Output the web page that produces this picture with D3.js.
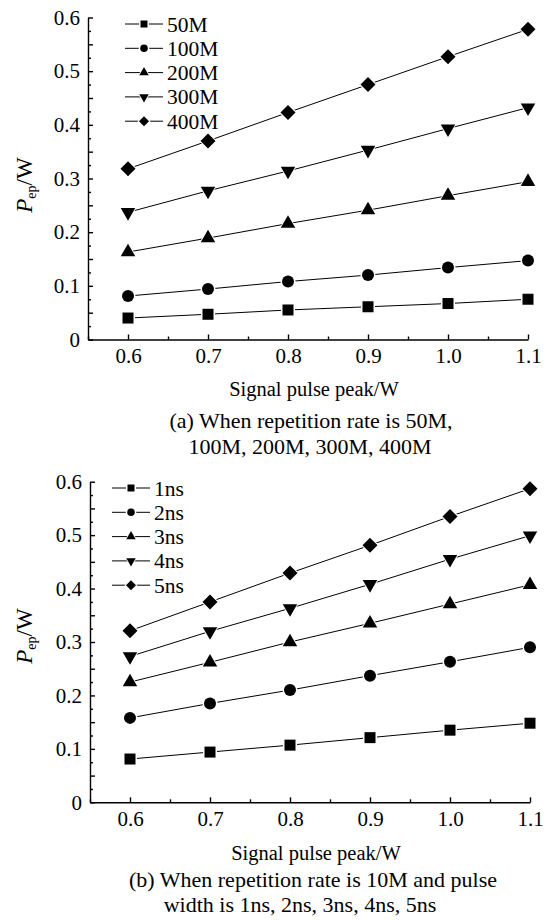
<!DOCTYPE html>
<html>
<head>
<meta charset="utf-8">
<script src="https://cdn.jsdelivr.net/npm/d3@7"></script>
<style>
  body { margin: 0; background: #fff; }
  svg text { font-family: "Liberation Serif", Tinos, "Times New Roman", "DejaVu Serif", serif; fill: #000; }
  .axis path, .axis line { stroke: #000; stroke-width: 1.4; }
  .axis text { font-size: 21px; }
  .series { fill: none; stroke: #000; stroke-width: 1; }
</style>
</head>
<body>
<svg width="545" height="921"></svg>
<script>
// x values (signal pulse peak, W)
var signalPeak = [0.6, 0.7, 0.8, 0.9, 1.0, 1.1];

// (a) repetition rate
var rateNames = ["50M", "100M", "200M", "300M", "400M"];
var pep50M  = [0.040, 0.047, 0.055, 0.061, 0.067, 0.075];
var pep100M = [0.081, 0.094, 0.108, 0.120, 0.134, 0.147];
var pep200M = [0.163, 0.189, 0.216, 0.241, 0.268, 0.294];
var pep300M = [0.237, 0.277, 0.314, 0.353, 0.393, 0.432];
var pep400M = [0.318, 0.370, 0.423, 0.475, 0.527, 0.578];

// (b) pulse width
var widthNames = ["1ns", "2ns", "3ns", "4ns", "5ns"];
var pep1ns = [0.081, 0.094, 0.107, 0.121, 0.135, 0.148];
var pep2ns = [0.158, 0.185, 0.210, 0.237, 0.263, 0.290];
var pep3ns = [0.225, 0.262, 0.300, 0.335, 0.371, 0.407];
var pep4ns = [0.273, 0.320, 0.363, 0.408, 0.455, 0.499];
var pep5ns = [0.321, 0.375, 0.429, 0.481, 0.535, 0.587];

// ticks
var xMajor = [0.6, 0.7, 0.8, 0.9, 1.0, 1.1];
var xMinor = [0.55, 0.65, 0.75, 0.85, 0.95, 1.05];
var yMajor = [0, 0.1, 0.2, 0.3, 0.4, 0.5, 0.6];
var yMid = [0.05, 0.15, 0.25, 0.35, 0.45, 0.55];
var yMinor = [0.025, 0.075, 0.125, 0.175, 0.225, 0.275, 0.325, 0.375, 0.425, 0.475, 0.525, 0.575];

var captionsA = ["(a) When repetition rate is 50M,", "100M, 200M, 300M, 400M"];
var captionsB = ["(b) When repetition rate is 10M and pulse", "width is 1ns, 2ns, 3ns, 4ns, 5ns"];

// marker shapes, one per series
var markerTypes = ["square", "circle", "up", "down", "diamond"];

var svg = d3.select("svg");

function markerPath(type, s) {
  // s ~ overall width of the marker in px
  switch (type) {
    case "square": return d3.symbol(d3.symbolSquare, s * s)();
    case "circle": return d3.symbol(d3.symbolCircle, Math.PI * s * s / 4)();
    case "up": return d3.symbol(d3.symbolTriangle, Math.sqrt(3) / 4 * s * s)();
    case "down": return d3.symbol(d3.symbolTriangle, Math.sqrt(3) / 4 * s * s)();
    case "diamond": return d3.symbol(d3.symbolSquare, s * s / 2)();
  }
}
function markerRot(type) {
  if (type === "down") return " rotate(180)";
  if (type === "diamond") return " rotate(45)";
  return "";
}
var markerSize = {square: 11, circle: 12, up: 14.5, down: 14.5, diamond: 15};
var legendSize = {square: 7, circle: 7.5, up: 9.5, down: 9.5, diamond: 10};

function drawMarker(g, type, x, y, s) {
  g.append("path")
    .attr("d", markerPath(type, s + 3))
    .attr("transform", "translate(" + [x, y] + ")" + markerRot(type))
    .style("fill", "#fff");
  g.append("path")
    .attr("d", markerPath(type, s))
    .attr("transform", "translate(" + [x, y] + ")" + markerRot(type))
    .style("fill", "#000");
}

function drawPanel(cfg) {
  var x = d3.scaleLinear().domain([0.55, 1.1]).range(cfg.xRange);
  var y = d3.scaleLinear().domain([0, 0.6]).range(cfg.yRange);
  var g = svg.append("g");

  // axes
  var yFmt = function (d) { return d === 0 ? "0" : d3.format(".1f")(d); };
  g.append("g").attr("class", "axis")
    .attr("transform", "translate(" + x(0.55) + ",0)")
    .call(d3.axisLeft(y).tickValues(yMajor).tickFormat(yFmt).tickSizeInner(-5).tickSizeOuter(0).tickPadding(8));
  g.append("g").attr("class", "axis")
    .attr("transform", "translate(" + x(0.55) + ",0)")
    .call(d3.axisLeft(y).tickValues(yMid).tickFormat("").tickSizeInner(-5).tickSizeOuter(0))
    .select(".domain").remove();
  g.append("g").attr("class", "axis")
    .attr("transform", "translate(" + x(0.55) + ",0)")
    .call(d3.axisLeft(y).tickValues(yMinor).tickFormat("").tickSizeInner(-3).tickSizeOuter(0))
    .select(".domain").remove();
  g.append("g").attr("class", "axis")
    .attr("transform", "translate(0," + y(0) + ")")
    .call(d3.axisBottom(x).tickValues(xMajor).tickFormat(d3.format(".1f")).tickSizeInner(-5).tickSizeOuter(0).tickPadding(9));
  g.append("g").attr("class", "axis")
    .attr("transform", "translate(0," + y(0) + ")")
    .call(d3.axisBottom(x).tickValues(xMinor).tickFormat("").tickSizeInner(-3).tickSizeOuter(0))
    .select(".domain").remove();
  g.selectAll(".axis").attr("font-family", null);

  // series
  var line = d3.line().x(function (d, i) { return x(signalPeak[i]); }).y(function (d) { return y(d); });
  cfg.series.forEach(function (vals, k) {
    g.append("path").attr("class", "series").attr("d", line(vals));
  });
  cfg.series.forEach(function (vals, k) {
    vals.forEach(function (v, i) {
      drawMarker(g, markerTypes[k], x(signalPeak[i]), y(v), markerSize[markerTypes[k]]);
    });
  });

  // legend
  var lg = cfg.legend;
  cfg.names.forEach(function (name, k) {
    var ly = lg.y + k * 24.3;
    g.append("line")
      .attr("x1", lg.x1).attr("x2", lg.x2).attr("y1", ly).attr("y2", ly)
      .style("stroke", "#000").style("stroke-width", 1);
    drawMarker(g, markerTypes[k], (lg.x1 + lg.x2) / 2, ly, legendSize[markerTypes[k]]);
    g.append("text")
      .attr("x", lg.x2 + 4).attr("y", ly).attr("dy", "0.35em")
      .style("font-size", "21.5px")
      .text(name);
  });

  // y label
  var yl = g.append("text")
    .attr("transform", "translate(" + [32, cfg.yLabelY] + ") rotate(-90)")
    .attr("text-anchor", "middle")
    .style("font-size", "23px");
  yl.append("tspan").style("font-style", "italic").text("P");
  yl.append("tspan").attr("dy", 4).style("font-size", "14px").text("ep");
  yl.append("tspan").attr("dy", -4).text("/W");

  // x label and caption
  g.append("text")
    .attr("x", cfg.xLabelX).attr("y", cfg.xLabelY).attr("dy", "0.35em")
    .attr("text-anchor", "middle").style("font-size", "20.5px")
    .text("Signal pulse peak/W");
  cfg.captions.forEach(function (c, i) {
    g.append("text")
      .attr("x", cfg.captionX[i]).attr("y", cfg.captionY[i]).attr("dy", "0.35em")
      .attr("text-anchor", "middle").style("font-size", "22px")
      .text(c);
  });
}

drawPanel({
  xRange: [88, 528], yRange: [339.5, 17.5],
  series: [pep50M, pep100M, pep200M, pep300M, pep400M],
  names: rateNames,
  legend: {x1: 125, x2: 163, y: 24},
  yLabelY: 185, xLabelX: 314, xLabelY: 389,
  captions: captionsA, captionX: [311, 310], captionY: [420, 446]
});

drawPanel({
  xRange: [90, 530], yRange: [802.3, 481.7],
  series: [pep1ns, pep2ns, pep3ns, pep4ns, pep5ns],
  names: widthNames,
  legend: {x1: 112, x2: 150, y: 488},
  yLabelY: 636, xLabelX: 316, xLabelY: 853,
  captions: captionsB, captionX: [313, 300], captionY: [879, 904]
});
</script>
</body>
</html>
